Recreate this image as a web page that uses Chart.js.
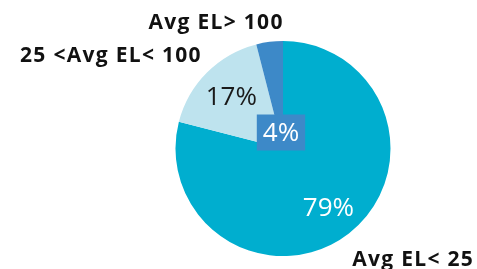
<!DOCTYPE html>
<html><head><meta charset="utf-8">
<script src="https://cdn.jsdelivr.net/npm/chart.js@4/dist/chart.umd.min.js"></script>
<style>html,body{margin:0;padding:0;background:#fff}#w{width:477px;height:269px}</style>
</head><body><div id="w"><canvas id="c" width="477" height="269"></canvas></div>
<script>
const categories = ["Avg EL< 25", "25 <Avg EL< 100", "Avg EL> 100"];
const shares = [79, 17, 4];
const colors = ["#00AECF", "#BEE3EE", "#3D89C8"];
const valueLabelColors = ["#ffffff", "#1a1a1a", "#ffffff"];

const labelPlugin = {
  id: 'pieLabels',
  afterDatasetsDraw(chart) {
    const ctx = chart.ctx;
    const meta = chart.getDatasetMeta(0);
    const radFrac = [0.69, 0.68, 0.15];
    meta.data.forEach((arc, i) => {
      const mid = (arc.startAngle + arc.endAngle) / 2;
      const r = arc.outerRadius * radFrac[i];
      const x = arc.x + Math.cos(mid) * r;
      const y = arc.y + Math.sin(mid) * r;
      const txt = shares[i] + '%';
      ctx.save();
      ctx.font = '400 26px "Open Sans"';
      ctx.textAlign = 'center';
      ctx.textBaseline = 'middle';
      if (i === 2) {
        const w = ctx.measureText(txt).width + 12;
        const h = 36;
        ctx.fillStyle = colors[2];
        ctx.fillRect(x - w / 2, y - h / 2, w, h);
      }
      ctx.fillStyle = valueLabelColors[i];
      ctx.fillText(txt, x, y + 1);
      ctx.restore();
    });
    const arc0 = meta.data[0];
    const cx = arc0.x, cy = arc0.y;
    const off = [[129.5, 117.5], [-172.7, -86.8], [-67.5, -119.2]];
    ctx.save();
    ctx.font = 'bold 21px "Open Sans"';
    ctx.letterSpacing = '1.3px';
    ctx.textAlign = 'center';
    ctx.textBaseline = 'alphabetic';
    ctx.fillStyle = '#111';
    categories.forEach((c, i) => {
      ctx.fillText(c, cx + off[i][0] + 0.65, cy + off[i][1]);
    });
    ctx.restore();
  }
};

new Chart(document.getElementById('c'), {
  type: 'pie',
  data: {
    labels: categories,
    datasets: [{ data: shares, backgroundColor: colors, borderWidth: 0 }]
  },
  options: {
    responsive: false,
    animation: false,
    layout: { padding: { left: 175, right: 86, top: 41, bottom: 13 } },
    plugins: { legend: { display: false }, tooltip: { enabled: false } }
  },
  plugins: [labelPlugin]
});
</script>
</body></html>
